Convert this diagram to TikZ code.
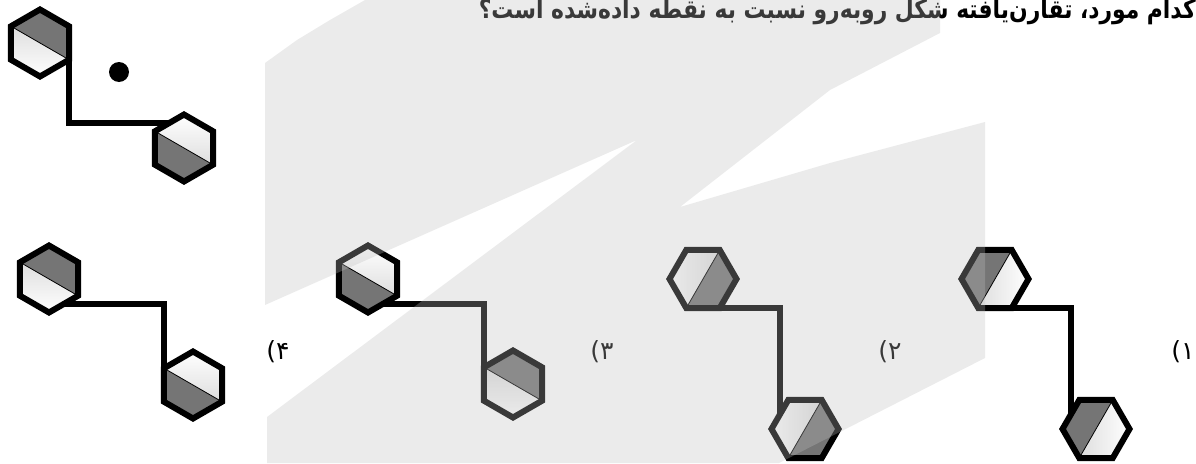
\documentclass[tikz,border=0pt]{standalone}
\usepackage{fontspec}
\usepackage{tkz-euclide}
\TeXXeTstate=1
\newfontfamily\farsifont[Script=Arabic]{DejaVu Sans}
\newfontfamily\farsititle[Script=Arabic,FakeStretch=0.84]{DejaVu Sans}
\definecolor{DarkClr}{rgb}{0.46,0.46,0.46}
\definecolor{LightClr}{rgb}{0.87,0.87,0.87}
\definecolor{MarkClr}{rgb}{0.745,0.745,0.745}

\begin{document}
\begin{tikzpicture}[x=1pt,y=1pt,
  hexline/.style={line width=6pt,line join=miter,color=black},
  link/.style={line width=5.5pt,color=black},
  DarkPart/.style={fill=DarkClr},
  LightLow/.style={top color=LightClr,bottom color=white},
  LightUp/.style={top color=white,bottom color=LightClr},
  LightLeft/.style={left color=white,right color=LightClr},
  LightRight/.style={left color=LightClr,right color=white},
  choice/.style={font=\farsifont\fontsize{25}{25}\selectfont}]
\useasboundingbox (0,0) rectangle (1196,-463);

% question text
\node[anchor=base east,inner sep=0pt,font=\farsititle\bfseries\fontsize{26}{28}\selectfont] (qtext) at (1196,-18)
  {\beginR کدام مورد، تقارن‌یافته شکل روبه‌رو نسبت به نقطه داده‌شده است؟\endR};

% hexagons: name/centre/first vertex/part one/part two
\foreach \h/\x/\y/\a/\fa/\fb in {%
  r/40/-43/150/LightLow/DarkPart, s/184/-148/150/DarkPart/LightUp,
  p/49/-279/150/LightLow/DarkPart, q/193/-385/150/DarkPart/LightUp,
  u/368/-279/150/DarkPart/LightUp, v/513/-384/150/LightLow/DarkPart,
  c/703/-279/60/LightLeft/DarkPart, d/805/-429/60/LightLeft/DarkPart,
  e/995/-279/60/DarkPart/LightRight, f/1096/-429/60/DarkPart/LightRight}
{
  \tkzDefPoint(\x,\y){\h0}
  \foreach \k in {1,...,6}{\tkzDefShiftPoint[\h0](\a+60*\k-60:33.5){\h\k}}
  \tkzFillPolygon[\fa](\h1,\h2,\h3,\h4)
  \tkzFillPolygon[\fb](\h4,\h5,\h6,\h1)
  \tkzDrawSegment[line width=.8pt,color=black](\h1,\h4)
  \tkzDrawPolygon[hexline](\h1,\h2,\h3,\h4,\h5,\h6)
}

% given figure and its centre point
\tkzDefShiftPoint[s0](120:29){sm}
\draw[link] (r4) -- (r4 |- sm) -- (sm);
\tkzDefPoint(119,-72){M}
\fill (M) circle (10);

% choices 4 and 3
\tkzDefShiftPoint[p0](300:29){pm}
\draw[link] (pm) -- (pm -| q1) -- (q1);
\tkzDefShiftPoint[u0](300:29){um}
\draw[link] (um) -- (um -| v1) -- (v1);

% choices 2 and 1
\tkzDefShiftPoint[d0](150:29){dm}
\draw[link] (c5) -- (c5 -| dm) -- (dm);
\tkzDefShiftPoint[f0](150:29){fm}
\draw[link] (e5) -- (e5 -| fm) -- (fm);

\node[choice] (l4) at (278,-352) {۴)};
\node[choice] (l3) at (602,-352) {۳)};
\node[choice] (l2) at (890,-352) {۲)};
\node[choice] (l1) at (1183,-352) {۱)};

% watermark
\fill[MarkClr,fill opacity=.3] (365,0) -- (940,0) -- (940,-33) -- (830,-90)
  -- (680,-207) -- (830,-163) -- (985,-122) -- (985,-358) -- (830,-437)
  -- (779,-463) -- (267,-463) -- (267,-417) -- (637,-140) -- (265,-305)
  -- (265,-63) -- (297,-40) -- (330,-20) -- cycle;
\end{tikzpicture}
\end{document}
